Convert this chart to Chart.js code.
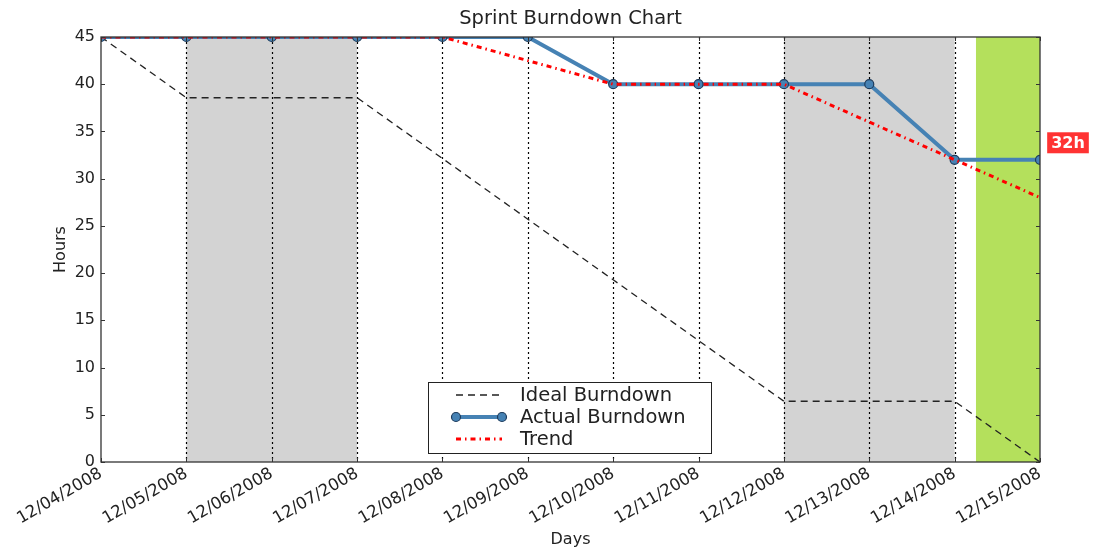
<!DOCTYPE html>
<html>
<head>
<meta charset="utf-8">
<title>Sprint Burndown Chart</title>
<script src="https://cdn.jsdelivr.net/npm/chart.js@4"></script>
<style>
  html, body { margin: 0; padding: 0; background: #fff; }
  #wrap { width: 1093px; height: 556px; }
</style>
</head>
<body>
<div id="wrap"><canvas id="chart"></canvas></div>
<script>
/* ================= DATA ================= */
const days = ["12/04/2008", "12/05/2008", "12/06/2008", "12/07/2008", "12/08/2008", "12/09/2008",
              "12/10/2008", "12/11/2008", "12/12/2008", "12/13/2008", "12/14/2008", "12/15/2008"];
const idealHours  = [45, 38.57, 38.57, 38.57, 32.14, 25.71, 19.29, 12.86, 6.43, 6.43, 6.43, 0];
const actualHours = [45, 45, 45, 45, 45, 45, 40, 40, 40, 40, 32, 32];
const trendHours  = [45, 45, 45, 45, 45, 42.5, 40, 40, 40, 36, 32, 28];
const weekends = [[1, 3], [8, 10]];   // day index ranges
const today = [10.25, 11];
const hourTicks = [0, 5, 10, 15, 20, 25, 30, 35, 40, 45];

const FONT = "'DejaVu Sans', sans-serif";
const TEXT = "#222";

const pts = arr => arr.map((v, i) => ({ x: i, y: v }));

/* ================= OVERLAY PLUGIN ================= */
const overlay = {
  id: "overlay",
  beforeDatasetsDraw(chart) {
    const { ctx, chartArea: a, scales: { x } } = chart;
    ctx.save();
    // weekend bands
    ctx.fillStyle = "#d3d3d3";
    weekends.forEach(([s, e]) => {
      const x0 = x.getPixelForValue(s), x1 = x.getPixelForValue(e);
      ctx.fillRect(x0, a.top, x1 - x0, a.bottom - a.top);
    });
    // today band
    ctx.fillStyle = "#b4e05c";
    const t0 = x.getPixelForValue(today[0]), t1 = x.getPixelForValue(today[1]);
    ctx.fillRect(t0, a.top, t1 - t0, a.bottom - a.top);
    // dotted day lines
    ctx.strokeStyle = "#000";
    ctx.lineWidth = 1.2;
    ctx.setLineDash([2, 3]);
    for (let i = 1; i < days.length - 1; i++) {
      const px = Math.round(x.getPixelForValue(i)) + 0.5;
      ctx.beginPath();
      ctx.moveTo(px, a.top);
      ctx.lineTo(px, a.bottom);
      ctx.stroke();
    }
    ctx.restore();
  },
  afterDatasetsDraw(chart) {
    const { ctx, chartArea: a, scales: { x, y } } = chart;
    ctx.save();
    // frame
    ctx.strokeStyle = "#333";
    ctx.lineWidth = 1.3;
    ctx.strokeRect(a.left, a.top, a.right - a.left, a.bottom - a.top);
    // inward ticks
    ctx.lineWidth = 1;
    ctx.beginPath();
    hourTicks.forEach(v => {
      const py = Math.round(y.getPixelForValue(v)) + 0.5;
      ctx.moveTo(a.left, py); ctx.lineTo(a.left + 4, py);
      ctx.moveTo(a.right, py); ctx.lineTo(a.right - 4, py);
    });
    days.forEach((d, i) => {
      const px = Math.round(x.getPixelForValue(i)) + 0.5;
      ctx.moveTo(px, a.bottom); ctx.lineTo(px, a.bottom - 4);
      ctx.moveTo(px, a.top); ctx.lineTo(px, a.top + 4);
    });
    ctx.stroke();

    // legend
    const lx = 428.5, ly = 382.5, lw = 283, lh = 71;
    ctx.fillStyle = "#fff";
    ctx.fillRect(lx, ly, lw, lh);
    ctx.strokeStyle = "#222";
    ctx.lineWidth = 1;
    ctx.strokeRect(lx, ly, lw, lh);
    ctx.font = "19.5px " + FONT;
    ctx.textBaseline = "middle";
    ctx.textAlign = "left";
    chart.data.datasets.forEach((ds, i) => {
      const cy = 395 + i * 22;
      ctx.strokeStyle = ds.borderColor;
      ctx.lineWidth = ds.borderWidth;
      ctx.setLineDash(ds.borderDash || []);
      ctx.beginPath();
      ctx.moveTo(456, cy);
      ctx.lineTo(502, cy);
      ctx.stroke();
      ctx.setLineDash([]);
      if (ds.pointRadius > 0) {
        [456, 502].forEach(px => {
          ctx.beginPath();
          ctx.arc(px, cy, ds.pointRadius, 0, Math.PI * 2);
          ctx.fillStyle = ds.pointBackgroundColor;
          ctx.fill();
          ctx.strokeStyle = ds.pointBorderColor;
          ctx.lineWidth = ds.pointBorderWidth;
          ctx.stroke();
        });
      }
      ctx.fillStyle = TEXT;
      ctx.fillText(ds.label, 520, cy + 1);
    });

    // remaining hours label
    const last = actualHours.length - 1;
    const text = actualHours[last] + "h";
    const cx = x.getPixelForValue(last) + 28;
    const cyl = y.getPixelForValue(actualHours[last]) - 17;
    ctx.font = "bold 16px " + FONT;
    const w = ctx.measureText(text).width + 8;
    ctx.fillStyle = "#ff3333";
    ctx.fillRect(cx - w / 2, cyl - 10.5, w, 21);
    ctx.fillStyle = "#fff";
    ctx.textAlign = "center";
    ctx.fillText(text, cx, cyl + 1);
    ctx.restore();
  },
  afterDraw(chart) {
    const { ctx, chartArea: a } = chart;
    ctx.save();
    ctx.fillStyle = TEXT;
    ctx.textAlign = "center";
    ctx.textBaseline = "middle";
    ctx.font = "19.5px " + FONT;
    ctx.fillText("Sprint Burndown Chart", (a.left + a.right) / 2, 19);
    ctx.font = "16px " + FONT;
    ctx.fillText("Days", (a.left + a.right) / 2, 540);
    ctx.translate(61, (a.top + a.bottom) / 2);
    ctx.rotate(-Math.PI / 2);
    ctx.fillText("Hours", 0, 0);
    ctx.restore();
  }
};

/* ================= CHART ================= */
const ctx = document.getElementById("chart").getContext("2d");

new Chart(ctx, {
  type: "line",
  data: {
    datasets: [
      {
        label: "Ideal Burndown",
        data: pts(idealHours),
        borderColor: "#222",
        borderWidth: 1.3,
        borderDash: [7, 5],
        pointRadius: 0,
        tension: 0,
        clip: 0,
        order: 3
      },
      {
        label: "Actual Burndown",
        data: pts(actualHours),
        borderColor: "#4682b4",
        borderWidth: 4,
        pointRadius: 4.5,
        pointBackgroundColor: "#4682b4",
        pointBorderColor: "#1d3b5c",
        pointBorderWidth: 1.2,
        tension: 0,
        clip: 0,
        order: 2
      },
      {
        label: "Trend",
        data: pts(trendHours),
        borderColor: "#ff0000",
        borderWidth: 3,
        borderDash: [5, 4, 1.5, 4],
        pointRadius: 0,
        tension: 0,
        clip: 0,
        order: 1
      }
    ]
  },
  options: {
    responsive: true,
    maintainAspectRatio: false,
    animation: false,
    layout: { padding: { left: 0, right: 53, top: 37, bottom: 0 } },
    plugins: {
      legend: { display: false },
      tooltip: { enabled: false },
      title: { display: false }
    },
    scales: {
      x: {
        type: "linear",
        min: 0,
        max: days.length - 1,
        afterFit(s) { s.height = 94; },
        grid: { display: false, drawTicks: false },
        border: { display: false },
        ticks: {
          stepSize: 1,
          autoSkip: false,
          minRotation: 30,
          maxRotation: 30,
          padding: 2,
          color: TEXT,
          font: { family: FONT, size: 16.5 },
          callback: v => days[v]
        }
      },
      y: {
        min: 0,
        max: 45,
        afterFit(s) { s.width = 101; },
        grid: { display: false, drawTicks: false },
        border: { display: false },
        ticks: {
          stepSize: 5,
          padding: 6,
          color: TEXT,
          font: { family: FONT, size: 16 }
        }
      }
    }
  },
  plugins: [overlay]
});
</script>
</body>
</html>
